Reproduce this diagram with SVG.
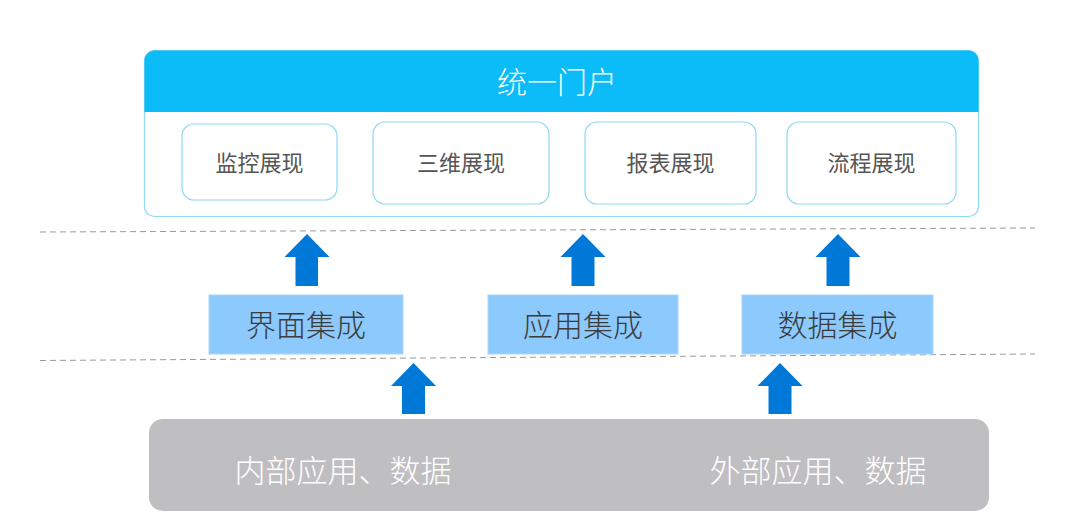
<svg xmlns="http://www.w3.org/2000/svg" width="1080" height="529" viewBox="0 0 1080 529">
<style>
.cjk{font-family:"Noto Sans CJK SC","Noto Sans",sans-serif;text-anchor:middle}
.card{fill:#fff;stroke:#8ED9F4;stroke-width:1.2}
.cardt{font-size:22px;fill:#555}
.mid{fill:#8CC9FD;stroke:#A9D6FA;stroke-width:1}
.midt{font-size:30px;fill:#3c3c3c;font-weight:300}
.arrow{fill:#0078D7}
.dash{stroke:#9a9a9a;stroke-width:1;stroke-dasharray:6 4;fill:none}
</style>
<rect width="1080" height="529" fill="#fff"/>
<g id="portal">
<rect x="144.5" y="50.5" width="834" height="166" rx="10" fill="#fff" stroke="#8ED9F4" stroke-width="1.2"/>
<path d="M144.5,112 V60.5 A10,10 0 0 1 154.5,50.5 H968.5 A10,10 0 0 1 978.5,60.5 V112 Z" fill="#0BBCF8"/>
<text class="cjk" x="557" y="93" font-size="30" font-weight="300" fill="#fff">统一门户</text>
</g>
<g id="card-monitor"><rect class="card" x="182" y="124" width="155" height="76" rx="12"/><text class="cjk cardt" x="259.5" y="171">监控展现</text></g>
<g id="card-3d"><rect class="card" x="373" y="122" width="176" height="82" rx="12"/><text class="cjk cardt" x="461" y="171">三维展现</text></g>
<g id="card-report"><rect class="card" x="585" y="122" width="171" height="82" rx="12"/><text class="cjk cardt" x="670.5" y="171">报表展现</text></g>
<g id="card-flow"><rect class="card" x="787" y="122" width="169" height="82" rx="12"/><text class="cjk cardt" x="871.5" y="171">流程展现</text></g>
<g id="separators">
<line class="dash" x1="40" y1="232" x2="1035" y2="228"/>
<line class="dash" x1="40" y1="360.5" x2="1035" y2="354"/>
</g>
<g id="mid-ui"><rect class="mid" x="209" y="295" width="194" height="59"/><text class="cjk midt" x="306" y="336">界面集成</text></g>
<g id="mid-app"><rect class="mid" x="488" y="295" width="190" height="59"/><text class="cjk midt" x="583" y="336">应用集成</text></g>
<g id="mid-data"><rect class="mid" x="742" y="295" width="191" height="59"/><text class="cjk midt" x="837.5" y="336">数据集成</text></g>
<g id="sources">
<rect x="149" y="419" width="840" height="92" rx="14" fill="#BFBEC1"/>
<text class="cjk" x="343" y="482" font-size="31" font-weight="300" fill="#fff">内部应用、数据</text>
<text class="cjk" x="818" y="482" font-size="31" font-weight="300" fill="#fff">外部应用、数据</text>
</g>
<g id="connectors">
<path class="arrow" d="M307,234 L329.5,257 L318,257 L318,286 L295.5,286 L295.5,257 L284.5,257 Z"/>
<path class="arrow" d="M583,234 L605.5,257 L594.5,257 L594.5,286 L571.5,286 L571.5,257 L560.5,257 Z"/>
<path class="arrow" d="M838,234 L860.5,257 L849.5,257 L849.5,286 L826.5,286 L826.5,257 L815.5,257 Z"/>
<path class="arrow" d="M413.5,363 L436,386 L425,386 L425,414 L402,414 L402,386 L391,386 Z"/>
<path class="arrow" d="M780,363 L802.5,386 L791.5,386 L791.5,414 L768.5,414 L768.5,386 L757.5,386 Z"/>
</g>
</svg>
